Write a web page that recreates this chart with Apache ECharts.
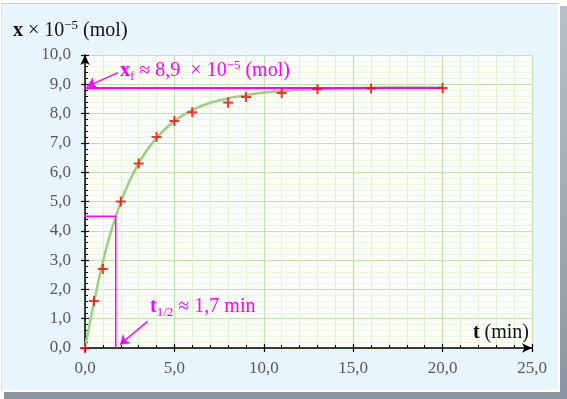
<!DOCTYPE html>
<html lang="fr">
<head>
<meta charset="UTF-8">
<title>Avancement x(t)</title>
<script src="https://cdn.jsdelivr.net/npm/echarts@6/dist/echarts.min.js"></script>
<style>
* { margin: 0; padding: 0; }
body { width: 567px; height: 399px; background: #fff; position: relative; overflow: hidden; }
.shadow { position: absolute; left: 4px; top: 6px; width: 563px; height: 393px; background: linear-gradient(#b9c0c7, #8c959f); }
.panel { position: absolute; left: 1px; top: 3px; width: 556px; height: 386px; background: #e8f5fc;
  border-top: 1px solid #c3cbd3; border-left: 1px solid #d8e0e7; border-right: 2px solid #fff; border-bottom: 2px solid #fff; }
#chart { position: absolute; left: 0; top: 0; width: 567px; height: 399px; }
</style>
</head>
<body>
<div class="shadow"></div>
<div class="panel"></div>
<div id="chart"></div>
<script>
// mesures : t (min) et x (x 10^-5 mol)
var tMes = [0, 0.5, 1, 2, 3, 4, 5, 6, 8, 9, 11, 13, 16, 20];
var xMes = [0, 1.6, 2.7, 5.0, 6.3, 7.2, 7.75, 8.05, 8.38, 8.57, 8.7, 8.83, 8.86, 8.87];

// courbe modele
var tCourbe = [0, 1, 2, 3, 4, 5, 6, 7, 8, 9, 10, 11, 12, 13, 14, 16, 18, 20];
var xCourbe = [0, 2.95, 4.98, 6.3, 7.17, 7.75, 8.12, 8.37, 8.52, 8.63, 8.72, 8.77, 8.81, 8.84, 8.86, 8.88, 8.89, 8.89];

// constructions (rose)
var xf = 8.87;
var tDemi = 1.72;
var xfTrait = [[-0.15, xf], [20, xf]];
var demiTrait = [[-0.15, 4.5], [tDemi, 4.5], [tDemi, 0]];
var xfFleche = [[1.85, 9.4], [0.12, 8.93]];
var demiFleche = [[3.5, 0.91], [1.96, 0.12]];
var xfTexte = [1.96, 9.45];
var demiTexte = [3.64, 1.41];

var tMin = 0, tMax = 25, tPas = 5;
var xMin = 0, xMax = 10, xPas = 1;

var serif = 'Liberation Serif';
var rose = '#ff00ff';
var virgule = function (v) { return v.toFixed(1).replace('.', ','); };

var chart = echarts.init(document.getElementById('chart'));

var axeX = {
    type: 'value', min: tMin, max: tMax, interval: tPas, position: 'bottom'
};
var axeY = {
    type: 'value', min: xMin, max: xMax, interval: xPas, position: 'left'
};

var option = {
    animation: false,
    grid: {
        left: 85, right: 35, top: 55, bottom: 51,
        show: true, backgroundColor: '#fbfdf8', borderWidth: 0
    },
    xAxis: [
        Object.assign({}, axeX, {
            axisLine: { lineStyle: { color: '#000', width: 1.5 }, symbol: ['none', 'arrow'], symbolSize: [7, 10] },
            axisTick: { inside: false, length: 4, lineStyle: { color: '#000', width: 1.2 } },
            axisLabel: { formatter: virgule, margin: 12, color: '#595959', fontFamily: serif, fontSize: 17 },
            splitLine: { lineStyle: { color: '#c3e2ad', width: 1.2 } },
            minorTick: { show: false, splitNumber: 5 },
            minorSplitLine: { show: true, lineStyle: { color: '#e4f1d9', width: 1 } }
        }),
        Object.assign({}, axeX, {
            axisLine: { show: false },
            axisTick: { inside: true, length: 4, lineStyle: { color: '#000', width: 1.2 } },
            axisLabel: { show: false },
            splitLine: { show: false },
            minorTick: { show: true, splitNumber: 5, length: 3, lineStyle: { color: '#000', width: 1 } }
        })
    ],
    yAxis: [
        Object.assign({}, axeY, {
            axisLine: { lineStyle: { color: '#000', width: 1.5 }, symbol: ['none', 'arrow'], symbolSize: [7, 10] },
            axisTick: { inside: false, length: 4, lineStyle: { color: '#000', width: 1.2 } },
            axisLabel: { formatter: virgule, margin: 14, color: '#595959', fontFamily: serif, fontSize: 17 },
            splitLine: { lineStyle: { color: '#c3e2ad', width: 1.2 } },
            minorTick: { show: false, splitNumber: 5 },
            minorSplitLine: { show: true, lineStyle: { color: '#edf4e0', width: 1 } }
        }),
        Object.assign({}, axeY, {
            axisLine: { show: false },
            axisTick: { inside: true, length: 4, lineStyle: { color: '#000', width: 1.2 } },
            axisLabel: { show: false },
            splitLine: { show: false },
            minorTick: { show: true, splitNumber: 5, length: 3, lineStyle: { color: '#000', width: 1 } }
        })
    ],
    series: [
        {
            type: 'line', name: 'modele',
            data: tCourbe.map(function (t, i) { return [t, xCourbe[i]]; }),
            smooth: 0.3, showSymbol: false, z: 2,
            lineStyle: { color: '#9dcf82', width: 2.5 }
        },
        {
            type: 'line', name: 'xf',
            data: xfTrait, showSymbol: false, clip: false, z: 3,
            lineStyle: { color: rose, width: 2 },
            markLine: {
                silent: true, symbol: ['none', 'arrow'], symbolSize: 9,
                label: { show: false },
                lineStyle: { color: rose, width: 1.5, type: 'solid' },
                data: [
                    [{ coord: xfFleche[0] }, { coord: xfFleche[1] }],
                    [{ coord: demiFleche[0] }, { coord: demiFleche[1] }]
                ]
            }
        },
        {
            type: 'line', name: 'demi',
            data: demiTrait, showSymbol: false, clip: false, z: 3,
            lineStyle: { color: rose, width: 1.5 }
        },
        {
            type: 'scatter', name: 'mesures',
            data: tMes.map(function (t, i) { return [t, xMes[i]]; }),
            symbol: 'path://M4,0H6V4H10V6H6V10H4V6H0V4H4Z',
            symbolSize: 10, z: 5,
            itemStyle: { color: '#ff0000' }
        }
    ]
};
chart.setOption(option);

var pXf = chart.convertToPixel({ gridIndex: 0 }, xfTexte);
var pDemi = chart.convertToPixel({ gridIndex: 0 }, demiTexte);

chart.setOption({
    graphic: [
        {
            type: 'text', left: 13, top: 19,
            style: {
                text: '{b|x} × 10{sup|−5} (mol)',
                font: '20px ' + serif, fill: '#111', lineHeight: 23,
                rich: {
                    b: { fontWeight: 'bold', fontSize: 20, fontFamily: serif, lineHeight: 23 },
                    sup: { fontSize: 13, fontFamily: serif, lineHeight: 13, verticalAlign: 'top' }
                }
            }
        },
        {
            type: 'text', right: 38, top: 321,
            style: {
                text: '{b|t} (min)',
                font: '20px ' + serif, fill: '#111', lineHeight: 23,
                rich: { b: { fontWeight: 'bold', fontSize: 20, fontFamily: serif, lineHeight: 23 } }
            }
        },
        {
            type: 'text', x: pXf[0], y: pXf[1],
            style: {
                text: '{b|x}{sub|f} ≈ 8,9  × 10{sup|−5} (mol)',
                font: '20px ' + serif, fill: rose, lineHeight: 24, verticalAlign: 'middle',
                rich: {
                    b: { fontWeight: 'bold', fontSize: 20, fontFamily: serif, lineHeight: 24 },
                    sub: { fontSize: 13, fontFamily: serif, lineHeight: 13, verticalAlign: 'bottom' },
                    sup: { fontSize: 13, fontFamily: serif, lineHeight: 13, verticalAlign: 'top' }
                }
            }
        },
        {
            type: 'text', x: pDemi[0], y: pDemi[1],
            style: {
                text: '{b|t}{sub|1/2} ≈ 1,7 min',
                font: '20px ' + serif, fill: rose, lineHeight: 24, verticalAlign: 'middle',
                rich: {
                    b: { fontWeight: 'bold', fontSize: 20, fontFamily: serif, lineHeight: 24 },
                    sub: { fontSize: 13, fontFamily: serif, lineHeight: 13, verticalAlign: 'bottom' }
                }
            }
        }
    ]
});
</script>
</body>
</html>
